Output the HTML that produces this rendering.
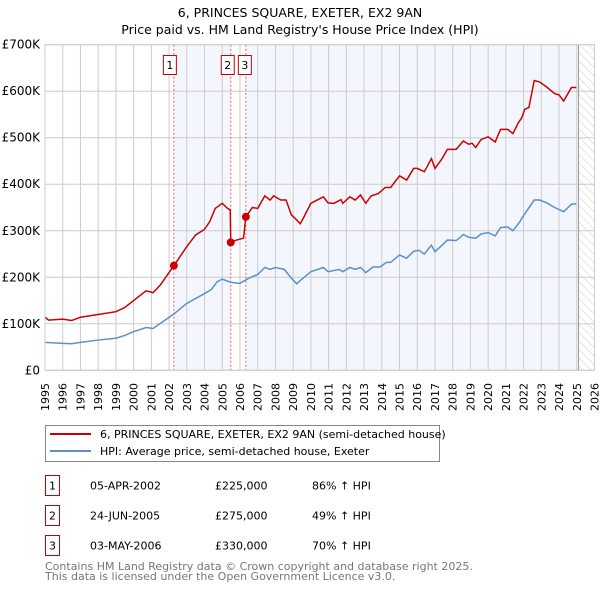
<!DOCTYPE html>
<html><head><meta charset="utf-8"><style>
body{margin:0;background:#fff;font-family:"DejaVu Sans","Liberation Sans",sans-serif}
svg text{font-family:"DejaVu Sans","Liberation Sans",sans-serif}
</style></head><body>
<svg id="chart" width="600" height="590" xmlns="http://www.w3.org/2000/svg">
<defs><pattern id="hatch" width="6" height="6" patternUnits="userSpaceOnUse" patternTransform="rotate(-45)"><line x1="0" y1="0" x2="0" y2="6" stroke="#ccc" stroke-width="1"/></pattern></defs>
<text x="300" y="17" text-anchor="middle" font-size="12.5">6, PRINCES SQUARE, EXETER, EX2 9AN</text>
<text x="300" y="34" text-anchor="middle" font-size="12.5">Price paid vs. HM Land Registry's House Price Index (HPI)</text>
<g id="plot"></g>
<g>
<rect x="45.5" y="425.5" width="394" height="36" fill="#fff" stroke="#888"/>
<line x1="50" y1="434" x2="91" y2="434" stroke="#cc0000" stroke-width="2"/>
<text x="100" y="438" font-size="11">6, PRINCES SQUARE, EXETER, EX2 9AN (semi-detached house)</text>
<line x1="50" y1="451" x2="91" y2="451" stroke="#5b8fd0" stroke-width="2"/>
<text x="100" y="455" font-size="11">HPI: Average price, semi-detached house, Exeter</text>
</g>
<g id="table" font-size="11"></g>
<text x="45" y="570" font-size="11" fill="#777">Contains HM Land Registry data © Crown copyright and database right 2025.</text>
<text x="45" y="580" font-size="11" fill="#777">This data is licensed under the Open Government Licence v3.0.</text>
</svg>
<script>
const yearTicks=[1995,1996,1997,1998,1999,2000,2001,2002,2003,2004,2005,2006,2007,2008,2009,2010,2011,2012,2013,2014,2015,2016,2017,2018,2019,2020,2021,2022,2023,2024,2025,2026];
const valueTicks=[0,100000,200000,300000,400000,500000,600000,700000];
const valueTickLabels=["£0","£100K","£200K","£300K","£400K","£500K","£600K","£700K"];
const redT=[1995,1995.2,1996,1996.5,1997,1998,1999,1999.5,2000,2000.7,2001.1,2001.5,2002.27,2003,2003.5,2004,2004.3,2004.6,2005,2005.3,2005.45,2005.48,2005.8,2006.2,2006.33,2006.7,2007,2007.4,2007.7,2007.9,2008.3,2008.6,2008.9,2009.1,2009.4,2009.6,2010,2010.7,2010.97,2011.3,2011.7,2011.8,2012.2,2012.5,2012.8,2013.1,2013.4,2013.8,2014.2,2014.5,2015,2015.4,2015.8,2016,2016.4,2016.8,2017,2017.4,2017.7,2018.2,2018.6,2018.9,2019.1,2019.3,2019.6,2020,2020.4,2020.7,2021.1,2021.4,2021.7,2021.9,2022.06,2022.3,2022.6,2022.9,2023.3,2023.75,2024,2024.26,2024.7,2024.97];
const redV=[114,108,110,107,114,120,126,135,150,171,167,183,225,266,291,303,320,348,359,348,345,275,280,284,330,350,348,375,366,375,366,366,334,327,315,329,359,373,360,359,367,359,373,366,377,359,375,380,393,393,418,409,434,434,427,455,434,455,475,475,493,486,488,479,496,502,491,518,518,509,532,543,561,565,623,620,609,595,592,579,608,608];
const blueT=[1995,1996,1996.5,1997,1998,1999,1999.5,2000,2000.7,2001.1,2002.27,2003,2004,2004.4,2004.7,2005,2005.5,2006,2006.5,2007,2007.4,2007.7,2008,2008.5,2008.9,2009.2,2009.4,2010,2010.7,2010.97,2011.6,2011.8,2012.2,2012.5,2012.8,2013.1,2013.5,2013.9,2014.26,2014.5,2015,2015.4,2015.8,2016.1,2016.4,2016.8,2017,2017.4,2017.7,2018.2,2018.6,2018.9,2019.3,2019.6,2020,2020.4,2020.7,2021.1,2021.4,2021.8,2021.9,2022.6,2022.9,2023.3,2023.75,2024.26,2024.7,2024.97];
const blueV=[60,58,57,60,65,69,75,83,92,90,121,144,165,174,190,196,189,187,198,206,221,217,221,217,198,186,193,212,221,212,217,212,221,217,221,210,222,222,232,232,248,241,256,258,250,269,255,269,280,279,292,286,284,293,296,289,307,308,300,320,327,366,366,360,350,341,357,358];
const saleDates=[2002.27,2005.48,2006.33];
const salePrices=[225000,275000,330000];
const saleLabels=["1","2","3"];
const saleDateText=["05-APR-2002","24-JUN-2005","03-MAY-2006"];
const salePriceText=["£225,000","£275,000","£330,000"];
const saleHpiText=["86% ↑ HPI","49% ↑ HPI","70% ↑ HPI"];

const NS="http://www.w3.org/2000/svg";
const X0=45,X1=594.5,Y0=370.3,Y1=44.7;
const xs=t=>X0+(t-1995)/31*(X1-X0);
const ys=v=>Y0-v/700000*(Y0-Y1);
const plot=document.getElementById('plot');
function mk(tag,attrs,parent){const e=document.createElementNS(NS,tag);for(const k in attrs)e.setAttribute(k,attrs[k]);(parent||plot).appendChild(e);return e;}
// shading
let s=mk('rect',{x:xs(saleDates[0]),y:Y1,width:xs(saleDates[1])-xs(saleDates[0]),height:Y0-Y1,fill:'#eef3fc',opacity:0.7});


s=mk('rect',{x:xs(saleDates[2]),y:Y1,width:xs(2025.1)-xs(saleDates[2]),height:Y0-Y1,fill:'#eef3fc',opacity:0.7});


s=mk('rect',{x:xs(2025.1),y:Y1,width:X1-xs(2025.1),height:Y0-Y1,fill:'url(#hatch)'});


// grid
yearTicks.forEach(y=>{const l=mk('line',{x1:xs(y),x2:xs(y),y1:Y1,y2:Y0,stroke:'#ccc','stroke-width':1});


const t=mk('text',{x:xs(y)+4,y:383,'font-size':11,'text-anchor':'end',transform:`rotate(-90 ${xs(y)+4} 383)`});t.textContent=y;

});
valueTicks.forEach((v,i)=>{const l=mk('line',{x1:X0,x2:X1,y1:ys(v),y2:ys(v),stroke:'#ccc','stroke-width':1});


const t=mk('text',{x:40,y:ys(v)+4,'font-size':12,'text-anchor':'end'});t.textContent=valueTickLabels[i];

});
let vl=mk('line',{x1:xs(2025.1),x2:xs(2025.1),y1:Y1,y2:Y0,stroke:'#999','stroke-width':1});


// sale markers lines
saleDates.forEach((d,i)=>{const l=mk('line',{x1:xs(d),x2:xs(d),y1:Y1,y2:Y0,stroke:'#e06060','stroke-width':1,'stroke-dasharray':'2,2'});


const r=mk('rect',{x:xs(d)-16.5,y:55.5,width:13,height:19,fill:'#fff',stroke:'#cc0000'});
if(i===0){r.setAttribute('x',xs(d)-10.5);}
if(i===2){r.setAttribute('x',xs(d)-7.5);}
if(i===1){r.setAttribute('x',xs(d)-9.5);}


const t=mk('text',{x:+r.getAttribute('x')+6.5,y:69,'font-size':11,'text-anchor':'middle'});t.textContent=saleLabels[i];

});
let p=mk('polyline',{points:blueT.map((t,i)=>xs(t)+','+ys(blueV[i]*1000)).join(' '),fill:'none',stroke:'#5b8fd0','stroke-width':1.5});


p=mk('polyline',{points:redT.map((t,i)=>xs(t)+','+ys(redV[i]*1000)).join(' '),fill:'none',stroke:'#cc0000','stroke-width':1.5});


saleDates.forEach((d,i)=>{const c=mk('circle',{cx:xs(d),cy:ys(salePrices[i]),r:4,fill:'#cc0000'});

});
let b=mk('rect',{x:X0,y:Y1,width:X1-X0,height:Y0-Y1,fill:'none',stroke:'#ccc'});


// table
const tb=document.getElementById('table');
saleLabels.forEach((l,i)=>{const y0=475.5+i*30;
const r=mk('rect',{x:45.5,y:y0,width:14,height:20,fill:'#fff',stroke:'#cc0000'},tb);


const cols=[[52.5,l,'middle'],[90,saleDateText[i],'start'],[215,salePriceText[i],'start'],[312,saleHpiText[i],'start']];
cols.forEach(c=>{const t=mk('text',{x:c[0],y:y0+14,'text-anchor':c[2]},tb);t.textContent=c[1];

});});
</script>
</body></html>
